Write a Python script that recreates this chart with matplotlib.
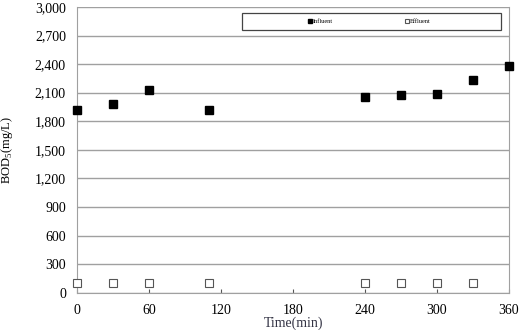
import matplotlib.pyplot as plt
from matplotlib.patches import Rectangle
from matplotlib.ticker import FuncFormatter

plt.rcParams['font.family'] = ['Liberation Serif', 'DejaVu Serif']
plt.rcParams['mathtext.fontset'] = 'custom'
plt.rcParams['mathtext.rm'] = 'Liberation Serif'

time_inf = [0, 30, 60, 110, 240, 270, 300, 330, 360]
bod_inf = [1915, 1980, 2125, 1915, 2058, 2076, 2090, 2234, 2379]
time_eff = [0, 30, 60, 110, 240, 270, 300, 330]
bod_eff = [100, 100, 100, 100, 100, 100, 100, 100]
xticks = [0, 60, 120, 180, 240, 300, 360]
yticks = list(range(0, 3001, 300))

fig = plt.figure(figsize=(5.21, 3.30), dpi=100)
ax = fig.add_axes([0.148, 0.113, 0.829, 0.866])

ax.plot(time_inf, bod_inf, 's', color='black', markersize=6, label='Influent', clip_on=False, zorder=3)
ax.plot(time_eff, bod_eff, 's', markerfacecolor='white', markeredgecolor='#555555',
        markeredgewidth=0.8, markersize=5.5, label='Effluent', clip_on=False, zorder=3)

ax.set_xlim(0, 360)
ax.set_ylim(0, 3000)
ax.set_xticks(xticks)
ax.set_yticks(yticks)
ax.yaxis.set_major_formatter(FuncFormatter(lambda v, p: '{:,.0f}'.format(v)))
ax.grid(axis='y', color='#a0a0a0', linewidth=1)
ax.set_axisbelow(True)
for s in ['left', 'bottom', 'right']:
    ax.spines[s].set_color('#a0a0a0')
ax.spines['top'].set_visible(False)
ax.tick_params(axis='x', direction='in', length=3, color='#555555', labelsize=10, pad=8)
ax.tick_params(axis='y', length=0, labelsize=10, pad=8)

ax.set_xlabel('Time(min)', fontsize=10, color='#333344', labelpad=0)
ax.set_ylabel('BOD$_\\mathrm{5}$(mg/L)', fontsize=9, labelpad=14)

# legend frame
ax.add_patch(Rectangle((0.382, 0.9195), 0.599, 0.0605, transform=ax.transAxes, facecolor='white',
                       edgecolor='#444444', linewidth=0.9, zorder=4))
leg = ax.legend(loc='center', bbox_to_anchor=(0.677, 0.95), ncol=2, fontsize=4.5, frameon=False,
                handlelength=0.6, handletextpad=0.2, markerscale=0.6, columnspacing=11.5)
leg.set_zorder(5)

fig.savefig('out.png', dpi=100)
